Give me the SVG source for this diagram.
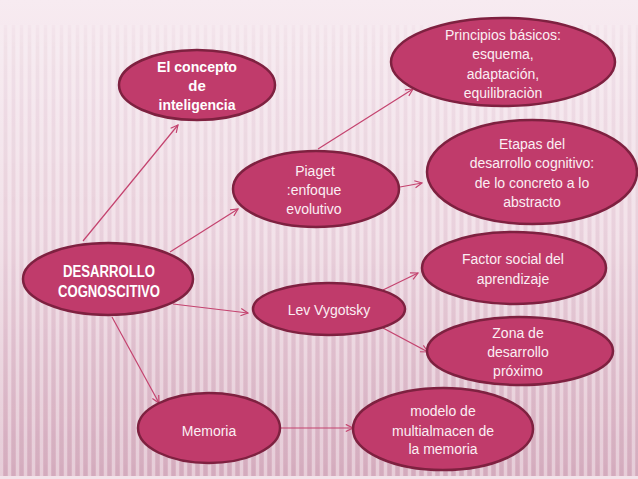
<svg xmlns="http://www.w3.org/2000/svg" width="638" height="479" viewBox="0 0 638 479">
<defs>
<linearGradient id="bg" x1="0" y1="0" x2="0" y2="1">
<stop offset="0" stop-color="#f7ebf1"/>
<stop offset="0.5" stop-color="#eed8e2"/>
<stop offset="1" stop-color="#d9b2c3"/>
</linearGradient>
<pattern id="stripes" width="8" height="10" patternUnits="userSpaceOnUse">
<rect x="0" y="0" width="3" height="10" fill="#ffffff" opacity="0.35"/>
<rect x="4" y="0" width="3" height="10" fill="#a86d88" opacity="0.1"/>
</pattern>
<linearGradient id="fadeG" x1="0" y1="0" x2="0" y2="1">
<stop offset="0" stop-color="#fff" stop-opacity="0"/>
<stop offset="0.1" stop-color="#fff" stop-opacity="0.5"/>
<stop offset="1" stop-color="#fff" stop-opacity="1"/>
</linearGradient>
<mask id="fade"><rect x="0" y="0" width="638" height="479" fill="url(#fadeG)"/></mask>
<marker id="arr" viewBox="0 0 10 10" refX="9" refY="5" markerWidth="9" markerHeight="9" markerUnits="userSpaceOnUse" orient="auto">
<path d="M1,1 L9,5 L1,9" fill="none" stroke="#c4436f" stroke-width="1.3"/>
</marker>
</defs>
<style>
.node ellipse{fill:#c03b6b;stroke:#7e2140;stroke-width:2.5}
.t{font-family:"Liberation Sans",Arial,sans-serif;font-size:14px;fill:#fbeef3;text-anchor:middle}
.b{font-family:"Liberation Sans",Arial,sans-serif;font-size:15px;font-weight:bold;fill:#ffffff;text-anchor:middle}
.edges line{stroke:#c4436f;stroke-width:1.2;fill:none;marker-end:url(#arr)}
</style>
<rect x="0" y="0" width="638" height="479" fill="url(#bg)"/>
<rect x="0" y="25" width="638" height="451" fill="url(#stripes)" mask="url(#fade)"/>
<rect x="0" y="476" width="638" height="3" fill="#f3e3ea"/>

<g class="edges" id="connectors">
<line x1="83" y1="241" x2="178" y2="125"/>
<line x1="170" y1="252" x2="238" y2="209"/>
<line x1="318" y1="149" x2="413" y2="89"/>
<line x1="400" y1="187" x2="422" y2="183"/>
<line x1="173" y1="304" x2="248" y2="313"/>
<line x1="112" y1="317" x2="159" y2="403"/>
<line x1="383" y1="290" x2="418" y2="273"/>
<line x1="383" y1="328" x2="428" y2="352"/>
<line x1="280" y1="428" x2="353" y2="428"/>
</g>

<g class="node" id="n-concepto">
<ellipse cx="197" cy="85" rx="78" ry="35"/>
<text class="b" x="197" y="72" textLength="80" lengthAdjust="spacingAndGlyphs">El concepto</text>
<text class="b" x="197" y="91">de</text>
<text class="b" x="197" y="110" textLength="77" lengthAdjust="spacingAndGlyphs">inteligencia</text>
</g>

<g class="node" id="n-principios">
<ellipse cx="503" cy="62" rx="112" ry="44"/>
<text class="t" x="503" y="40">Principios básicos:</text>
<text class="t" x="503" y="59">esquema,</text>
<text class="t" x="503" y="79">adaptación,</text>
<text class="t" x="503" y="98">equilibraciòn</text>
</g>

<g class="node" id="n-piaget">
<ellipse cx="316" cy="189" rx="83" ry="38"/>
<text class="t" x="315" y="176">Piaget</text>
<text class="t" x="314" y="195">:enfoque</text>
<text class="t" x="314" y="214">evolutivo</text>
</g>

<g class="node" id="n-etapas">
<ellipse cx="532" cy="172" rx="105" ry="52"/>
<text class="t" x="532" y="149">Etapas del</text>
<text class="t" x="532" y="168">desarrollo cognitivo:</text>
<text class="t" x="532" y="188">de lo concreto a lo</text>
<text class="t" x="532" y="207">abstracto</text>
</g>

<g class="node" id="n-desarrollo">
<ellipse cx="108" cy="279" rx="85" ry="36"/>
<text class="b" x="109" y="277" style="font-size:16px" textLength="92" lengthAdjust="spacingAndGlyphs">DESARROLLO</text>
<text class="b" x="109" y="297" style="font-size:16px" textLength="102" lengthAdjust="spacingAndGlyphs">COGNOSCITIVO</text>
</g>

<g class="node" id="n-factor">
<ellipse cx="514" cy="268" rx="92" ry="36"/>
<text class="t" x="513" y="264">Factor social del</text>
<text class="t" x="513" y="284">aprendizaje</text>
</g>

<g class="node" id="n-lev">
<ellipse cx="329" cy="309" rx="76" ry="26"/>
<text class="t" x="329" y="315">Lev Vygotsky</text>
</g>

<g class="node" id="n-zona">
<ellipse cx="520" cy="351" rx="93" ry="34"/>
<text class="t" x="518" y="338">Zona de</text>
<text class="t" x="518" y="357">desarrollo</text>
<text class="t" x="518" y="376">próximo</text>
</g>

<g class="node" id="n-memoria">
<ellipse cx="209" cy="428" rx="71" ry="35"/>
<text class="t" x="209" y="436">Memoria</text>
</g>

<g class="node" id="n-modelo">
<ellipse cx="443" cy="429" rx="90" ry="41"/>
<text class="t" x="443" y="416">modelo de</text>
<text class="t" x="443" y="436">multialmacen de</text>
<text class="t" x="443" y="454">la memoria</text>
</g>
</svg>
